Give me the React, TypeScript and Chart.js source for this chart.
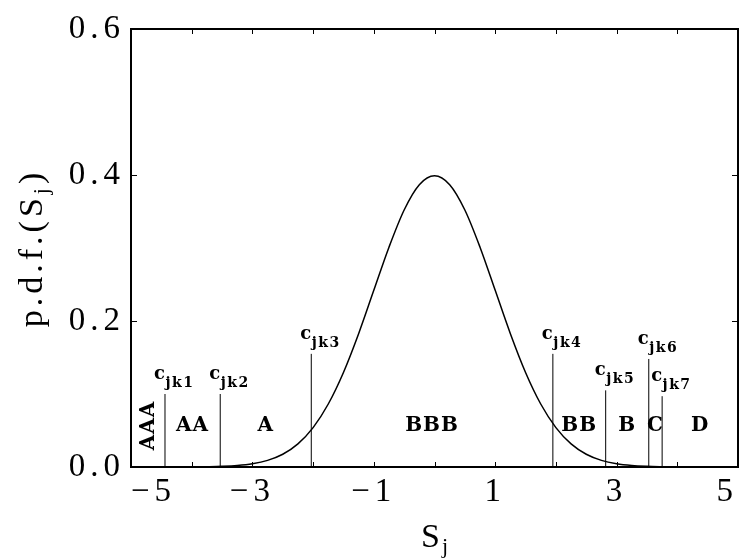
import React, { useEffect, useRef } from "react";
import { Chart, registerables } from "chart.js";
Chart.register(...registerables);

// Standard normal p.d.f. (x, y)
const curveX = [
  -5, -4.75, -4.5, -4.25, -4, -3.75, -3.5, -3.25, -3, -2.75, -2.5, -2.25, -2, -1.75, -1.5, -1.25, -1, -0.75, -0.5, -0.25,
  0,
  0.25, 0.5, 0.75, 1, 1.25, 1.5, 1.75, 2, 2.25, 2.5, 2.75, 3, 3.25, 3.5, 3.75, 4, 4.25, 4.5, 4.75, 5,
];
const curveY = [
  0, 0, 0, 0, 0.0001, 0.0004, 0.0009, 0.002, 0.0044, 0.0091, 0.0175, 0.0317, 0.054, 0.0863, 0.1295, 0.1826, 0.242, 0.3011, 0.3521, 0.3867,
  0.3989,
  0.3867, 0.3521, 0.3011, 0.242, 0.1826, 0.1295, 0.0863, 0.054, 0.0317, 0.0175, 0.0091, 0.0044, 0.002, 0.0009, 0.0004, 0.0001, 0, 0, 0, 0,
];

const ratings = ["AAA", "AA", "A", "BBB", "BB", "B", "C", "D"];
const cutoffs = [-4.44, -3.53, -2.03, 1.95, 2.82, 3.53, 3.75];
const cutoffHeights = [0.1, 0.1, 0.155, 0.155, 0.105, 0.148, 0.097];
const cutoffSubs = ["jk1", "jk2", "jk3", "jk4", "jk5", "jk6", "jk7"];

const xMin = -5;
const xMax = 5;
const yMin = 0;
const yMax = 0.6;
const xStep = 2;
const yStep = 0.2;
const xMinorTicks = [-5, -4, -3, -2, -1, 0, 1, 2, 3, 4, 5];
const yMinorTicks = [0, 0.2, 0.4, 0.6];
const xTitle = "S";
const yTitle = "p.d.f.(S";
const titleSub = "j";
const ratingLabelY = 0.057;

const SERIF = "'Liberation Serif', serif";
const BOLD = "'DejaVu Serif', serif";

const annotations = {
  id: "annotations",
  beforeDraw(chart: any) {
    chart.ctx.letterSpacing = "5px";
  },
  afterDraw(chart: any) {
    const ctx = chart.ctx as CanvasRenderingContext2D;
    const xs = chart.scales.x;
    const ys = chart.scales.y;
    const ca = chart.chartArea;
    ctx.save();
    (ctx as any).letterSpacing = "0px";

    // frame
    ctx.strokeStyle = "#000";
    ctx.lineWidth = 2;
    ctx.strokeRect(ca.left, ca.top, ca.right - ca.left, ca.bottom - ca.top);

    // inward ticks
    ctx.lineWidth = 1;
    ctx.beginPath();
    xMinorTicks.forEach((v) => {
      const px = Math.round(xs.getPixelForValue(v)) + 0.5;
      ctx.moveTo(px, ca.bottom);
      ctx.lineTo(px, ca.bottom - 5);
      ctx.moveTo(px, ca.top);
      ctx.lineTo(px, ca.top + 5);
    });
    yMinorTicks.forEach((v) => {
      const py = Math.round(ys.getPixelForValue(v)) + 0.5;
      ctx.moveTo(ca.left, py);
      ctx.lineTo(ca.left + 6, py);
      ctx.moveTo(ca.right, py);
      ctx.lineTo(ca.right - 6, py);
    });
    ctx.stroke();

    ctx.fillStyle = "#000";

    // cutoff labels c_jk
    cutoffs.forEach((c, i) => {
      const lx = xs.getPixelForValue(c);
      const ty = ys.getPixelForValue(cutoffHeights[i]);
      ctx.textAlign = "left";
      ctx.textBaseline = "alphabetic";
      (ctx as any).letterSpacing = "0px";
      ctx.font = `bold 18px ${BOLD}`;
      ctx.fillText("c", lx - 11, ty - 15);
      const cw = ctx.measureText("c").width;
      ctx.font = `bold 14px ${BOLD}`;
      (ctx as any).letterSpacing = "1.5px";
      ctx.fillText(cutoffSubs[i], lx - 11 + cw + 0.5, ty - 7);
    });

    // rating labels between cutoffs
    const bounds = [xMin, ...cutoffs, xMax];
    ctx.font = `bold 20px ${BOLD}`;
    (ctx as any).letterSpacing = "1px";
    ctx.textAlign = "center";
    ctx.textBaseline = "middle";
    const ly = ys.getPixelForValue(ratingLabelY);
    ratings.forEach((r, i) => {
      const mx = xs.getPixelForValue((bounds[i] + bounds[i + 1]) / 2);
      if (i === 0) {
        ctx.save();
        ctx.translate(mx + 1, ly);
        ctx.rotate(-Math.PI / 2);
        ctx.fillText(r, 0, 0);
        ctx.restore();
      } else {
        ctx.fillText(r, mx, ly);
      }
    });

    // x title S_j
    ctx.textAlign = "left";
    ctx.textBaseline = "alphabetic";
    (ctx as any).letterSpacing = "0px";
    ctx.font = `34px ${SERIF}`;
    const sW = ctx.measureText(xTitle).width;
    ctx.font = `22px ${SERIF}`;
    const jW = ctx.measureText(titleSub).width;
    const cx = (ca.left + ca.right) / 2;
    const startX = cx - (sW + 2 + jW) / 2;
    ctx.font = `34px ${SERIF}`;
    ctx.fillText(xTitle, startX, 547);
    ctx.font = `22px ${SERIF}`;
    ctx.fillText(titleSub, startX + sW + 2, 553);

    // y title p.d.f.(S_j)
    ctx.save();
    const cy = (ca.top + ca.bottom) / 2;
    ctx.translate(42, cy);
    ctx.rotate(-Math.PI / 2);
    (ctx as any).letterSpacing = "4px";
    ctx.font = `34px ${SERIF}`;
    const w1 = ctx.measureText(yTitle).width;
    const w3 = ctx.measureText(")").width;
    ctx.font = `22px ${SERIF}`;
    const w2 = ctx.measureText(titleSub).width;
    const total = w1 + w2 + w3;
    let x0 = -total / 2;
    ctx.font = `34px ${SERIF}`;
    ctx.fillText(yTitle, x0, 0);
    x0 += w1;
    ctx.font = `22px ${SERIF}`;
    ctx.fillText(titleSub, x0, 6);
    x0 += w2;
    ctx.font = `34px ${SERIF}`;
    ctx.fillText(")", x0, 0);
    ctx.restore();

    ctx.restore();
  },
};

export default function App() {
  const ref = useRef<HTMLCanvasElement | null>(null);
  useEffect(() => {
    if (!ref.current) return;
    const curveData = curveX.map((x, i) => ({ x, y: curveY[i] }));
    const cutoffSets = cutoffs.map((c, i) => ({
      data: [
        { x: c, y: 0 },
        { x: c, y: cutoffHeights[i] },
      ],
      showLine: true,
      borderColor: "#000",
      borderWidth: 1,
      pointRadius: 0,
      fill: false,
    }));
    const chart = new Chart(ref.current, {
      type: "scatter",
      data: {
        datasets: [
          {
            data: curveData,
            showLine: true,
            borderColor: "#000",
            borderWidth: 1.5,
            pointRadius: 0,
            cubicInterpolationMode: "monotone",
            fill: false,
          } as any,
          ...cutoffSets,
        ],
      },
      options: {
        animation: false,
        responsive: false,
        events: [],
        layout: { padding: { top: 29, right: 7, left: 0, bottom: 0 } },
        plugins: { legend: { display: false }, tooltip: { enabled: false } },
        scales: {
          x: {
            type: "linear",
            min: xMin,
            max: xMax,
            afterFit(scale: any) {
              scale.height = 92;
            },
            grid: { display: false, drawTicks: false },
            border: { display: false },
            ticks: {
              stepSize: xStep,
              autoSkip: false,
              maxRotation: 0,
              align: "inner",
              padding: 6,
              color: "#000",
              font: { family: SERIF, size: 33 },
              callback: (v: any) => (Number(v) < 0 ? "\u2212" + Math.abs(Number(v)) : String(v)),
            },
          },
          y: {
            type: "linear",
            min: yMin,
            max: yMax,
            afterFit(scale: any) {
              scale.width = 131;
            },
            grid: { display: false, drawTicks: false },
            border: { display: false },
            ticks: {
              stepSize: yStep,
              padding: 6,
              color: "#000",
              font: { family: SERIF, size: 33 },
              callback: (v: any) => Number(v).toFixed(1),
            },
          },
        },
      },
      plugins: [annotations],
    });
    return () => chart.destroy();
  }, []);
  return (
    <div style={{ position: "fixed", left: 0, top: 0, width: 745, height: 559, background: "#fff" }}>
      <canvas ref={ref} width={745} height={559} style={{ display: "block" }} />
    </div>
  );
}
